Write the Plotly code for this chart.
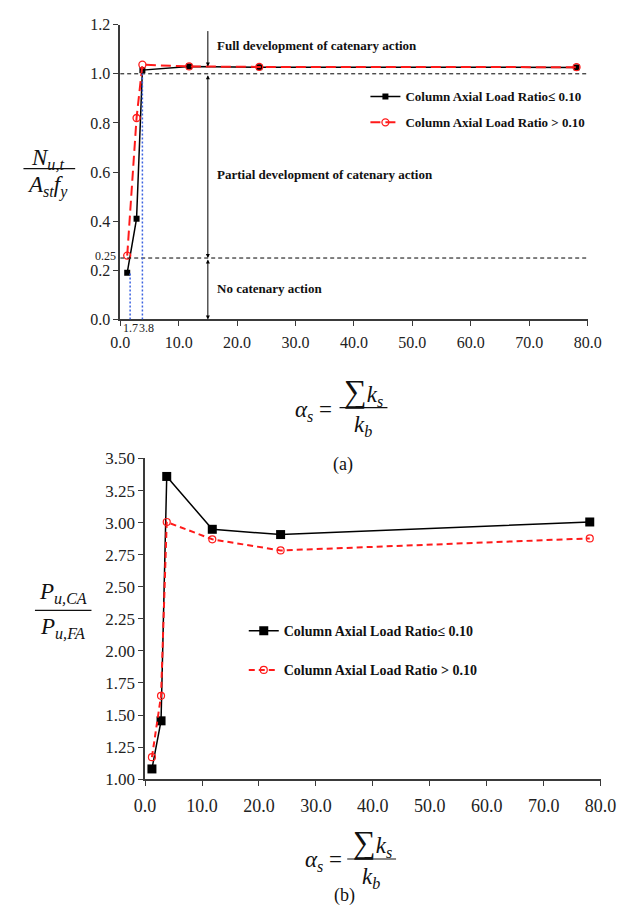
import plotly.graph_objects as go

# ---------------- data ----------------
alpha_s = [1.2, 2.8, 3.8, 11.8, 23.8, 78.1]
ratio_low_a = [0.19, 0.41, 1.015, 1.03, 1.027, 1.026]
ratio_high_a = [0.26, 0.82, 1.037, 1.03, 1.028, 1.027]
ratio_low_b = [1.08, 1.455, 3.36, 2.948, 2.907, 3.005]
ratio_high_b = [1.172, 1.65, 3.005, 2.87, 2.783, 2.877]
series_names = ["Column Axial Load Ratio≤ 0.10", "Column Axial Load Ratio > 0.10"]

x_ticks = [0, 10, 20, 30, 40, 50, 60, 70, 80]
x_tick_labels = ["0.0", "10.0", "20.0", "30.0", "40.0", "50.0", "60.0", "70.0", "80.0"]
y_ticks_a = [0.0, 0.2, 0.4, 0.6, 0.8, 1.0, 1.2]
y_tick_labels_a = ["0.0", "0.2", "0.4", "0.6", "0.8", "1.0", "1.2"]
y_ticks_b = [1.0, 1.25, 1.5, 1.75, 2.0, 2.25, 2.5, 2.75, 3.0, 3.25, 3.5]
y_tick_labels_b = ["1.00", "1.25", "1.50", "1.75", "2.00", "2.25", "2.50", "2.75", "3.00", "3.25", "3.50"]

ratio_levels = [1.0, 0.25]            # horizontal dashed limits
alpha_limits = [1.7, 3.8]             # blue dotted limits
alpha_limit_tops = [0.19, 1.01]
zone_x = 15.0
zone_bounds = [1.18, 1.03, 1.0, 0.25, 0.0]
zone_labels = ["Full development of catenary action",
               "Partial development of catenary action",
               "No catenary action"]
zone_label_y = [1.115, 0.59, 0.125]

FONT = "Liberation Serif"
AX_COL = "#3a3a3a"
W, H = 641, 917


def px(xp):
    return xp / W


def py(yp):
    return 1 - yp / H


fig = go.Figure()

# ---------- panel (a) ----------
fig.add_trace(go.Scatter(
    x=alpha_s, y=ratio_low_a, mode="lines+markers", name="<b>%s</b>" % series_names[0],
    line=dict(color="black", width=1.5),
    marker=dict(symbol="square", size=6, color="black"),
    xaxis="x", yaxis="y", legend="legend", legendgroup="a1", cliponaxis=False))
fig.add_trace(go.Scatter(
    x=alpha_s, y=ratio_high_a, mode="lines+markers", name="<b>%s</b>" % series_names[1],
    line=dict(color="#ff1a1a", width=2, dash="10px,5px"),
    marker=dict(symbol="circle-open", size=7, color="#ff1a1a", line=dict(width=1.3)),
    xaxis="x", yaxis="y", legend="legend", legendgroup="a2", cliponaxis=False))

# ---------- panel (b) ----------
fig.add_trace(go.Scatter(
    x=alpha_s, y=ratio_low_b, mode="lines+markers", name="<b>%s</b>" % series_names[0],
    line=dict(color="black", width=1.5),
    marker=dict(symbol="square", size=9, color="black"),
    xaxis="x2", yaxis="y2", legend="legend2", legendgroup="b1", cliponaxis=False))
fig.add_trace(go.Scatter(
    x=alpha_s, y=ratio_high_b, mode="lines+markers", name="<b>%s</b>" % series_names[1],
    line=dict(color="#ff1a1a", width=2, dash="6px,4px"),
    marker=dict(symbol="circle-open", size=7, color="#ff1a1a", line=dict(width=1.2)),
    xaxis="x2", yaxis="y2", legend="legend2", legendgroup="b2", cliponaxis=False))

shapes = []
annotations = []

# dashed horizontal limits
for lv in ratio_levels:
    shapes.append(dict(type="line", xref="x", yref="y", x0=0, x1=80, y0=lv, y1=lv,
                       line=dict(color="black", width=1, dash="4px,3px")))
# blue dotted vertical limits
for xv, top in zip(alpha_limits, alpha_limit_tops):
    shapes.append(dict(type="line", xref="x", yref="y", x0=xv, x1=xv, y0=0, y1=top,
                       line=dict(color="#3b62e0", width=1.5, dash="2px,2px")))

# zone arrows
annotations.append(dict(x=zone_x, y=zone_bounds[1], ax=zone_x, ay=zone_bounds[0],
                        xref="x", yref="y", axref="x", ayref="y", text="",
                        showarrow=True, arrowhead=2, arrowsize=0.8, arrowwidth=1,
                        arrowcolor="black"))
annotations.append(dict(x=zone_x, y=zone_bounds[3], ax=zone_x, ay=zone_bounds[2],
                        xref="x", yref="y", axref="x", ayref="y", text="",
                        showarrow=True, arrowhead=2, startarrowhead=2, arrowside="end+start",
                        arrowsize=0.8, startarrowsize=0.8, arrowwidth=1, arrowcolor="black"))
annotations.append(dict(x=zone_x, y=zone_bounds[4], ax=zone_x, ay=zone_bounds[3],
                        xref="x", yref="y", axref="x", ayref="y", text="",
                        showarrow=True, arrowhead=2, startarrowhead=2, arrowside="end+start",
                        arrowsize=0.8, startarrowsize=0.8, arrowwidth=1, arrowcolor="black"))
for lab, yv in zip(zone_labels, zone_label_y):
    annotations.append(dict(x=zone_x + 1.2, y=yv, xref="x", yref="y", text="<b>%s</b>" % lab,
                            showarrow=False, xanchor="left", yanchor="middle",
                            font=dict(family=FONT, size=13, color="#111")))

# small labels 0.25, 1.7, 3.8
annotations.append(dict(x=0, y=ratio_levels[1], xref="x", yref="y", text="0.25",
                        showarrow=False, xanchor="right", yanchor="bottom", xshift=-2, yshift=-7,
                        font=dict(family=FONT, size=12, color="#222")))
annotations.append(dict(x=alpha_limits[0], y=0, xref="x", yref="y", text="1.7",
                        showarrow=False, xanchor="center", yanchor="top", yshift=0,
                        font=dict(family=FONT, size=12, color="#222")))
annotations.append(dict(x=alpha_limits[1], y=0, xref="x", yref="y", text="3.8",
                        showarrow=False, xanchor="left", yanchor="top", yshift=0, xshift=-5,
                        font=dict(family=FONT, size=12, color="#222")))


# ---------- formula-style axis titles ----------
def text_at(xp, yp, txt, size):
    annotations.append(dict(x=px(xp), y=py(yp), xref="paper", yref="paper", text=txt,
                            showarrow=False, xanchor="center", yanchor="middle",
                            font=dict(family=FONT, size=size, color="#111")))


def frac_line(x0p, x1p, yp):
    shapes.append(dict(type="line", xref="paper", yref="paper", x0=px(x0p), x1=px(x1p),
                       y0=py(yp), y1=py(yp), line=dict(color="#111", width=1.2)))


# panel (a) y title
text_at(38, 153, "<i>N</i><sub><i>u,t</i></sub>", 23)
frac_line(13, 67, 163)
text_at(38, 181, "<i>A</i><sub><i>st</i></sub><i>f</i><sub><i>y</i></sub>", 23)
# panel (b) y title
text_at(54, 596, "<i>P</i><sub><i>u,CA</i></sub>", 23)
frac_line(25, 84, 614)
text_at(54, 632, "<i>P</i><sub><i>u,FA</i></sub>", 23)
# panel (a) x title
text_at(316, 410, "<i>α</i><sub><i>s</i></sub> =", 23)
text_at(368, 391, "<span style='font-size:32px'>∑</span><i>k</i><sub><i>s</i></sub>", 23)
frac_line(343, 393, 407)
text_at(368, 426, "<i>k</i><sub><i>b</i></sub>", 23)
text_at(347, 465, "(a)", 18)
# panel (b) x title
text_at(326, 870, "<i>α</i><sub><i>s</i></sub> =", 23)
text_at(377, 851, "<span style='font-size:32px'>∑</span><i>k</i><sub><i>s</i></sub>", 23)
frac_line(351, 402, 868)
text_at(376, 887, "<i>k</i><sub><i>b</i></sub>", 23)
text_at(348, 905, "(b)", 18)

axis_common = dict(showline=True, linecolor=AX_COL, linewidth=1.5, ticks="outside",
                   ticklen=5, tickwidth=1.2, tickcolor=AX_COL, showgrid=False,
                   zeroline=False, mirror=False)

fig.update_layout(
    width=W, height=H,
    margin=dict(l=0, r=0, t=0, b=0),
    paper_bgcolor="white", plot_bgcolor="white",
    font=dict(family=FONT, color="#222"),
    xaxis=dict(domain=[px(114), px(602)], range=[0, 80], anchor="y",
               tickvals=x_ticks, ticktext=x_tick_labels, ticklabelstandoff=3,
               tickfont=dict(family=FONT, size=16, color="#222"), **axis_common),
    yaxis=dict(domain=[py(317), py(16)], range=[0, 1.2], anchor="x",
               tickvals=y_ticks_a, ticktext=y_tick_labels_a,
               tickfont=dict(family=FONT, size=16, color="#222"), **axis_common),
    xaxis2=dict(domain=[px(140), px(615.5)], range=[0, 80], anchor="y2",
                tickvals=x_ticks, ticktext=x_tick_labels, ticklabelstandoff=4,
                tickfont=dict(family=FONT, size=18, color="#222"), **axis_common),
    yaxis2=dict(domain=[py(786.5), py(459)], range=[1.0, 3.5], anchor="x2",
                tickvals=y_ticks_b, ticktext=y_tick_labels_b,
                tickfont=dict(family=FONT, size=17, color="#222"), **axis_common),
    legend=dict(x=px(370), y=py(74), xanchor="left", yanchor="top",
                bgcolor="rgba(0,0,0,0)", borderwidth=0, itemwidth=30,
                tracegroupgap=6, traceorder="grouped",
                font=dict(family=FONT, size=13, color="#111"), itemclick=False),
    legend2=dict(x=px(243), y=py(619), xanchor="left", yanchor="top",
                 bgcolor="rgba(0,0,0,0)", borderwidth=0, itemwidth=30,
                 tracegroupgap=18, traceorder="grouped",
                 font=dict(family=FONT, size=14, color="#111"), itemclick=False),
    shapes=shapes,
    annotations=annotations,
    showlegend=True,
)

fig.write_html("out.html", config={"displayModeBar": False},
               post_script="document.documentElement.style.overflow='hidden';"
                           "document.body.style.margin='0';document.body.style.overflow='hidden';")
